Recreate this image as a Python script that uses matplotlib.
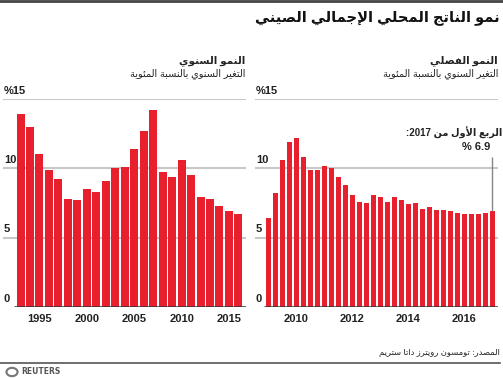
import re
import matplotlib
matplotlib.use('Agg')
import matplotlib.pyplot as plt
from matplotlib.patches import Circle

# --- data -----------------------------------------------------------------
annual_years = list(range(1993, 2017))
annual_growth = [13.9, 13.0, 11.0, 9.9, 9.2, 7.8, 7.7, 8.5, 8.3, 9.1, 10.0, 10.1,
                 11.4, 12.7, 14.2, 9.7, 9.4, 10.6, 9.5, 7.9, 7.8, 7.3, 6.9, 6.7]
annual_ticks = [1995, 2000, 2005, 2010, 2015]

quarter_labels = [f"{y}Q{q}" for y in range(2009, 2018) for q in range(1, 5)][:33]
quarter_growth = [6.4, 8.2, 10.6, 11.9, 12.2, 10.8, 9.9, 9.9, 10.2, 10.0, 9.4, 8.8,
                  8.1, 7.6, 7.5, 8.1, 7.9, 7.6, 7.9, 7.7, 7.4, 7.5, 7.1, 7.2,
                  7.0, 7.0, 6.9, 6.8, 6.7, 6.7, 6.7, 6.8, 6.9]
quarter_ticks = [2010, 2012, 2014, 2016]

y_ticks = [0, 5, 10, 15]
y_tick_labels = ["0", "5", "10", "%15"]

title = "نمو الناتج المحلي الإجمالي الصيني"
left_head = "النمو السنوي"
right_head = "النمو الفصلي"
sub_head = "التغير السنوي بالنسبة المئوية"
note_1 = "الربع الأول من 2017:"
note_2 = "% 6.9"
source = "المصدر: تومسون رويترز داتا ستريم"

RED = '#E8202E'
GRID = '#c8c8c8'


# --- minimal arabic shaping (matplotlib has no bidi / joining) -------------
FORMS = {}
for ch, start in zip("آأؤإاةدذرزوى",
                     [0xFE81, 0xFE83, 0xFE85, 0xFE87, 0xFE8D, 0xFE93, 0xFEA9,
                      0xFEAB, 0xFEAD, 0xFEAF, 0xFEED, 0xFEEF]):
    FORMS[ch] = (start, start + 1, None, None)
for ch, start in zip("ئبتثجحخسشصضطظعغفقكلمنهي",
                     [0xFE89, 0xFE8F, 0xFE95, 0xFE99, 0xFE9D, 0xFEA1, 0xFEA5,
                      0xFEB1, 0xFEB5, 0xFEB9, 0xFEBD, 0xFEC1, 0xFEC5, 0xFEC9,
                      0xFECD, 0xFED1, 0xFED5, 0xFED9, 0xFEDD, 0xFEE1, 0xFEE5,
                      0xFEE9, 0xFEF1]):
    FORMS[ch] = (start, start + 1, start + 2, start + 3)
LAM_ALEF = {'آ': 0xFEF5, 'أ': 0xFEF7, 'إ': 0xFEF9, 'ا': 0xFEFB}


def joins_next(ch):
    return ch in FORMS and FORMS[ch][2] is not None


def shape(text):
    out = []
    i = 0
    n = len(text)
    while i < n:
        ch = text[i]
        if ch not in FORMS:
            out.append(ch)
            i += 1
            continue
        prev = text[i - 1] if i > 0 else ''
        nxt = text[i + 1] if i + 1 < n else ''
        p = joins_next(prev)
        if ch == 'ل' and nxt in LAM_ALEF:
            out.append(chr(LAM_ALEF[nxt] + (1 if p else 0)))
            i += 2
            continue
        iso, fin, ini, med = FORMS[ch]
        q = joins_next(ch) and nxt in FORMS
        if p and q:
            code = med
        elif p:
            code = fin
        elif q:
            code = ini
        else:
            code = iso
        out.append(chr(code))
        i += 1
    s = ''.join(out)
    # visual order: reverse, but keep number runs left to right
    parts = re.split(r'([0-9][0-9.]*)', s)
    parts = [p if re.match(r'[0-9]', p) else p[::-1] for p in parts]
    return ''.join(parts[::-1])


AR = ['Liberation Sans', 'DejaVu Sans']

fig = plt.figure(figsize=(5.03, 3.78), dpi=100)
W, H = 503.0, 378.0


def fx(px):
    return px / W


def fy(py):
    return 1 - py / H


def panel(x0, x1, xs, vals, width, xlim, ticks, tick_fmt):
    ax = fig.add_axes([fx(x0), fy(307), fx(x1 - x0), fy(99) - fy(307)])
    ax.bar(xs, vals, width=width, color=RED, linewidth=0, zorder=3)
    ax.set_xlim(*xlim)
    ax.set_ylim(0, 15)
    for v in y_ticks[1:]:
        ax.axhline(v, color=GRID, linewidth=1.5, zorder=1)
    ax.hlines(0, xs[0] - width * 0.8, xlim[1], color='#333333', linewidth=1.8,
              zorder=4)
    for v, lab in zip(y_ticks, y_tick_labels):
        ax.text(xlim[0] + (xlim[1] - xlim[0]) * 0.004, v + 0.25, lab,
                ha='left', va='bottom', fontsize=8, fontweight='bold',
                family='Liberation Sans', color='#222222')
    ax.set_xticks(ticks)
    ax.set_xticklabels([tick_fmt(t) for t in ticks], fontsize=8,
                       fontweight='bold', family='Liberation Sans',
                       color='#222222')
    ax.tick_params(axis='x', length=0, pad=5)
    ax.set_yticks([])
    for s in ax.spines.values():
        s.set_visible(False)
    ax.patch.set_alpha(0)
    return ax


ax1 = panel(3, 246, annual_years, annual_growth, 0.84, (1991.15, 2016.8),
            annual_ticks, str)

qx = [int(l[:4]) + (int(l[-1]) - 1) / 4 for l in quarter_labels]
ax2 = panel(255, 498, qx, quarter_growth, 0.205, (2008.52, 2017.2),
            quarter_ticks, str)

# annotation on last quarter
ax2.vlines(qx[-1], quarter_growth[-1], 10.8, color='#888888', linewidth=1,
           zorder=4)
fig.text(fx(502), fy(133), shape(note_1), ha='right', va='center',
         fontsize=7, fontweight='bold', family=AR, color='#222222')
fig.text(fx(490), fy(147), note_2, ha='right', va='center',
         fontsize=8, fontweight='bold', family=AR, color='#222222')

# titles
fig.text(fx(500), fy(18), shape(title), ha='right', va='center',
         fontsize=10.5, fontweight='bold', family=AR, color='#111111')
fig.text(fx(245), fy(61), shape(left_head), ha='right', va='center',
         fontsize=7.5, fontweight='bold', family=AR, color='#222222')
fig.text(fx(245), fy(74), shape(sub_head), ha='right', va='center',
         fontsize=7, family=AR, color='#222222')
fig.text(fx(498), fy(61), shape(right_head), ha='right', va='center',
         fontsize=7.5, fontweight='bold', family=AR, color='#222222')
fig.text(fx(498), fy(74), shape(sub_head), ha='right', va='center',
         fontsize=7, family=AR, color='#222222')

# footer
fig.text(fx(500), fy(353), shape(source), ha='right', va='center',
         fontsize=6, family=AR, color='#222222')
fig.add_artist(plt.Line2D([0, fx(500)], [fy(363), fy(363)], color='#555555',
                          linewidth=1.2))
fig.add_artist(plt.Line2D([0, 1], [fy(0.8), fy(0.8)], color='#444444',
                          linewidth=2))
fig.add_artist(Circle((fx(12), fy(372)), 0.011, transform=fig.transFigure,
                      facecolor='none', edgecolor='#777777', linewidth=1.5))
fig.text(fx(21), fy(372), "REUTERS", ha='left', va='center', fontsize=5.5,
         fontweight='bold', family='DejaVu Sans', color='#555555')

fig.savefig('out.png', dpi=100)
